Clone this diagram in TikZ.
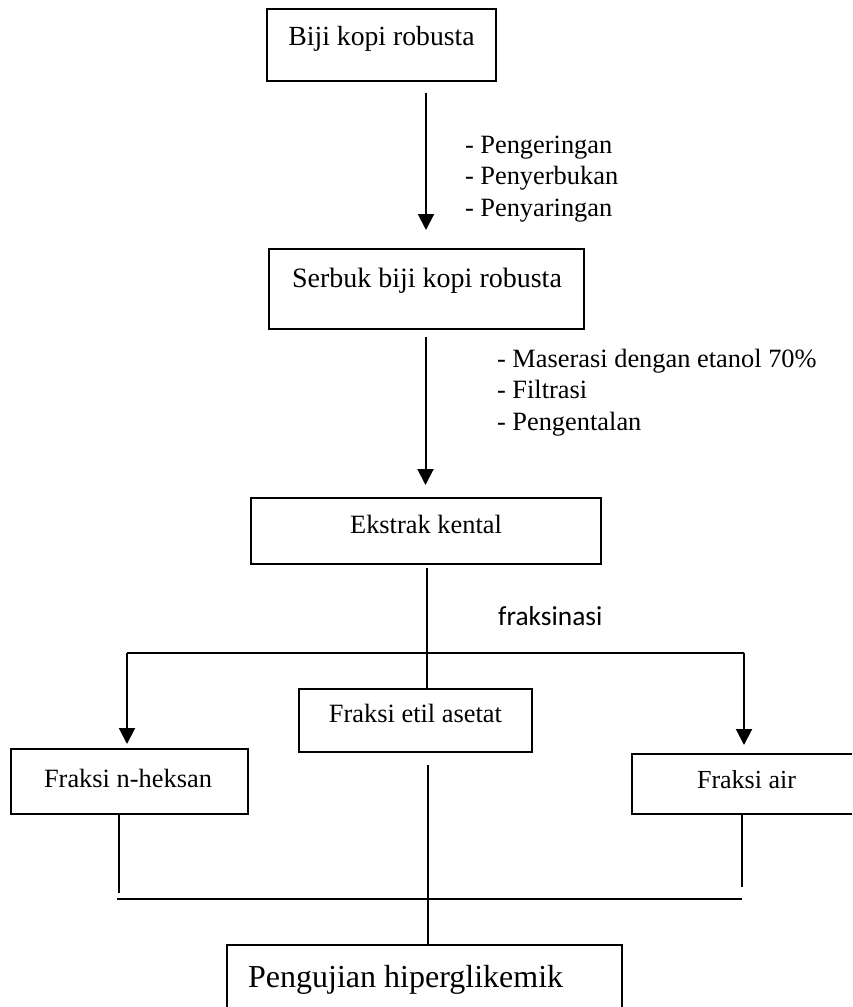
\documentclass[tikz,border=0pt]{standalone}
\usepackage{fontspec}
\setmainfont{Liberation Serif}
\newfontfamily\calib{Carlito}
\usetikzlibrary{arrows.meta}
\begin{document}
\begin{tikzpicture}[x=1pt,y=-1pt,
  boxbase/.style={draw, inner sep=0pt, outer sep=0pt, anchor=north west},
  boxthin/.style={boxbase, line width=1.2pt},
  boxthick/.style={boxbase, line width=2.4pt},
  txt/.style={anchor=base, inner sep=0pt, outer sep=0pt},
  ltxt/.style={anchor=base west, inner sep=0pt, outer sep=0pt, font=\fontsize{26.4}{31}\selectfont},
  arr/.style={line width=2pt, -{Triangle[width=16pt,length=16pt]}},
  thinline/.style={line width=1.1pt}]
\useasboundingbox (0,0) rectangle (852,1007);
\clip (0,0) rectangle (852,1007);

% boxes
\node[boxthin, minimum width=229pt, minimum height=72pt] (b1) at (267,9) {};
\node[boxthick, minimum width=315pt, minimum height=80pt] (b2) at (269,249) {};
\node[boxthick, minimum width=350pt, minimum height=66pt] (b3) at (251,498) {};
\node[boxthick, minimum width=233pt, minimum height=63pt] (etil) at (299,689) {};
\node[boxthick, minimum width=237pt, minimum height=65pt] (hex) at (11,749) {};
\node[boxthick, minimum width=230pt, minimum height=60pt] (air) at (632,754) {};
\node[boxthick, minimum width=395pt, minimum height=75pt] (uji) at (227,945) {};

% box texts
\node[txt, font=\fontsize{27.7}{32}\selectfont] (t1) at (381.5,45) {Biji kopi robusta};
\node[txt, font=\fontsize{28}{32}\selectfont] (t2) at (427,287) {Serbuk biji kopi robusta};
\node[txt, font=\fontsize{26.4}{31}\selectfont] (t3) at (426,533) {Ekstrak kental};
\node[txt, font=\fontsize{26.4}{31}\selectfont] (tetil) at (415.5,722) {Fraksi etil asetat};
\node[txt, font=\fontsize{26.4}{31}\selectfont] (thex) at (128,787) {Fraksi n-heksan};
\node[txt, font=\fontsize{26}{31}\selectfont] (tair) at (746.5,788) {Fraksi air};
\node[anchor=base west, inner sep=0pt, font=\fontsize{32}{37}\selectfont] (tuji) at (248,987) {Pengujian hiperglikemik};

% side labels
\node[ltxt] (l1) at (465,153) {- Pengeringan};
\node[ltxt] (l2) at (465,184.5) {- Penyerbukan};
\node[ltxt] (l3) at (465,216) {- Penyaringan};
\node[ltxt] (m1) at (497,367) {- Maserasi dengan etanol 70\%};
\node[ltxt] (m2) at (497,398.5) {- Filtrasi};
\node[ltxt] (m3) at (497,430) {- Pengentalan};
\node[anchor=base west, inner sep=0pt, font=\calib\fontsize{27.4}{32}\selectfont] (fr) at (498,625) {fraksinasi};

% reference coordinates
\coordinate (xa) at (426,0);
\coordinate (xb) at (425.5,0);
\coordinate (xc) at (427,0);
\coordinate (hL) at (127,653);
\coordinate (hR) at (744,653);
\coordinate (xm) at (428,0);
\coordinate (lEnd) at (119,893);
\coordinate (rEnd) at (742,887);
\coordinate (bL) at (117,899);
\coordinate (bR) at (742,899);

% connectors
\draw[arr, shorten <=12pt, shorten >=19pt] (b1.south -| xa) -- (b2.north -| xa);
\draw[arr, shorten <=8pt, shorten >=13pt] (b2.south -| xb) -- (b3.north -| xb);
\draw[line width=2pt, -{Bar[width=7pt,line width=1.5pt]}, shorten <=4pt] (b3.south -| xc) -- (etil.north -| xc);
\draw[thinline] (hL) -- (hR);
\draw[arr, shorten >=5pt] (hL) -- (hL |- hex.north);
\draw[arr, shorten >=9pt] (hR) -- (hR |- air.north);
\draw[thinline] (hex.south -| lEnd) -- (lEnd);
\draw[thinline] (air.south -| rEnd) -- (rEnd);
\draw[thinline, shorten <=13pt] (etil.south -| xm) -- (uji.north -| xm);
\draw[thinline] (bL) -- (bR);
\end{tikzpicture}
\end{document}
